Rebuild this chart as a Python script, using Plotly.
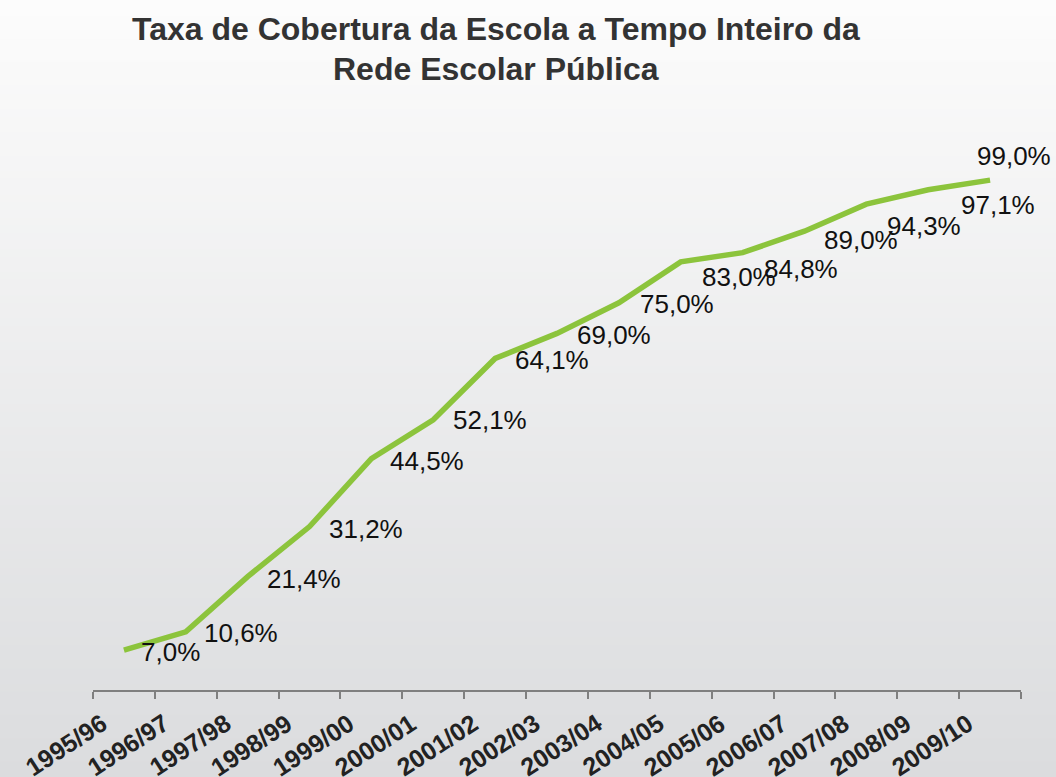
import plotly.graph_objects as go

# ---- data ----
categories = ["1995/96", "1996/97", "1997/98", "1998/99", "1999/00", "2000/01",
              "2001/02", "2002/03", "2003/04", "2004/05", "2005/06", "2006/07",
              "2007/08", "2008/09", "2009/10"]
coverage = [7.0, 10.6, 21.4, 31.2, 44.5, 52.1, 64.1, 69.0, 75.0, 83.0, 84.8,
            89.0, 94.3, 97.1, 99.0]
title_lines = ["Taxa de Cobertura da Escola a Tempo Inteiro da",
               "Rede Escolar Pública"]

# ---- label placement (pixel offsets of label centre from its point) ----
label_dx = [47, 55, 56, 56, 56, 57, 57, 57, 58, 58, 58, 57, 58, 70, 24]
label_dy = [2, 1, 2, 2, 2, 0, 2, 2, 1, 15, 16, 9, 22, 15, -24]

W, H = 1056, 777
M_L, M_R, M_T, M_B = 93, 35, 140, 87
plot_h = H - M_T - M_B
plot_w = W - M_L - M_R
px_per_unit = 5.11
y_min = -4 / px_per_unit
y_max = y_min + plot_h / px_per_unit

FONT = "Liberation Sans, Arial, sans-serif"


def py(pix):
    """pixel row from the top of the figure -> paper y"""
    return (H - M_B - pix) / plot_h


def px(pix):
    """pixel column from the left of the figure -> paper x"""
    return (pix - M_L) / plot_w


def fmt(v):
    return f"{v:.1f}".replace(".", ",") + "%"


fig = go.Figure()
fig.add_trace(go.Scatter(
    x=categories, y=coverage, mode="lines",
    line=dict(color="#8cc43c", width=5.5),
    hoverinfo="x+y", showlegend=False,
))

# data labels
for c, v, dx, dy in zip(categories, coverage, label_dx, label_dy):
    fig.add_annotation(x=c, y=v, text=fmt(v), showarrow=False,
                       xshift=dx, yshift=-dy, xanchor="center", yanchor="middle",
                       font=dict(family=FONT, size=26, color="#111111"))

# rotated category labels
for c in categories:
    fig.add_annotation(x=c, xref="x", y=py(706), yref="paper", text=c,
                       showarrow=False, textangle=-33, xanchor="right",
                       yanchor="top", xshift=-10,
                       font=dict(family=FONT, size=25, color="#222222",
                                 weight="bold"))

# title, two centred lines
for i, line in enumerate(title_lines):
    fig.add_annotation(x=px(496), xref="paper",
                       y=py(29 + 40 * i), yref="paper", text="<b>%s</b>" % line,
                       showarrow=False, xanchor="center", yanchor="middle",
                       font=dict(family=FONT, size=32, color="#333333"))

# background vertical gradient made of thin bands (paper coords)
top_rgb = (252, 252, 252)
bot_rgb = (219, 220, 222)
n_bands = 100
for i in range(n_bands):
    t = (i + 0.5) / n_bands
    col = tuple(round(a + (b - a) * t) for a, b in zip(top_rgb, bot_rgb))
    fig.add_shape(type="rect", xref="paper", yref="paper", layer="below",
                  x0=px(0), x1=px(W), y0=py(H * (i + 1) / n_bands + 1),
                  y1=py(H * i / n_bands),
                  line=dict(width=0), fillcolor="rgb(%d,%d,%d)" % col)

fig.update_layout(
    width=W, height=H,
    margin=dict(l=M_L, r=M_R, t=M_T, b=M_B, autoexpand=False),
    paper_bgcolor="#eeeeee",
    plot_bgcolor="rgba(0,0,0,0)",
    xaxis=dict(type="category", range=[-0.5, len(categories) - 0.5],
               tickson="boundaries", ticks="outside", ticklen=7, tickwidth=2,
               tickcolor="#7f7f7f", showline=True, linecolor="#7f7f7f",
               linewidth=2, showgrid=False, zeroline=False,
               showticklabels=False),
    yaxis=dict(range=[y_min, y_max], visible=False, showgrid=False,
               zeroline=False),
)

fig.write_html("out.html", config={"displayModeBar": False},
               post_script="document.body.style.margin='0';document.body.style.overflow='hidden';")
